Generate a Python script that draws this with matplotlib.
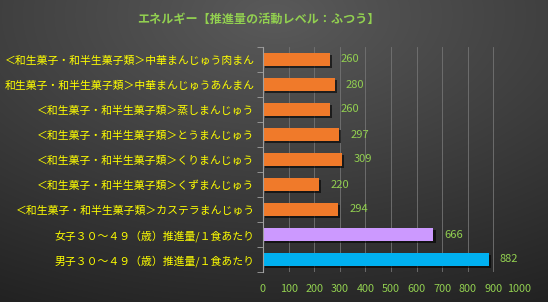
import numpy as np
import matplotlib
matplotlib.use("Agg")
import matplotlib.pyplot as plt
import matplotlib.patheffects as pe

plt.rcParams['font.family'] = ['Noto Sans CJK JP', 'DejaVu Sans']

title = "エネルギー【推進量の活動レベル：ふつう】"
categories = [
    "＜和生菓子・和半生菓子類＞中華まんじゅう肉まん",
    "和生菓子・和半生菓子類＞中華まんじゅうあんまん",
    "＜和生菓子・和半生菓子類＞蒸しまんじゅう",
    "＜和生菓子・和半生菓子類＞とうまんじゅう",
    "＜和生菓子・和半生菓子類＞くりまんじゅう",
    "＜和生菓子・和半生菓子類＞くずまんじゅう",
    "＜和生菓子・和半生菓子類＞カステラまんじゅう",
    "女子３０～４９（歳）推進量/１食あたり",
    "男子３０～４９（歳）推進量/１食あたり",
]
values = [260, 280, 260, 297, 309, 220, 294, 666, 882]
bar_colors = ["#F07A2A"] * 7 + ["#CC99FF", "#00B0F0"]
xticks = [0, 100, 200, 300, 400, 500, 600, 700, 800, 900, 1000]

W, H = 548, 302
fig = plt.figure(figsize=(W / 100, H / 100), dpi=100)

# background radial gradient
bg = fig.add_axes([0, 0, 1, 1], zorder=-10)
yy, xx = np.mgrid[0:H, 0:W]
cx, cy = W * 0.5, H * 0.05
d = np.sqrt(((xx - cx) / W) ** 2 + ((yy - cy) / H) ** 2)
d = d / d.max()
c0 = np.array([0x5a, 0x5a, 0x5a]) / 255
c1 = np.array([0x22, 0x22, 0x22]) / 255
img = c0[None, None, :] * (1 - d[..., None]) + c1[None, None, :] * d[..., None]
bg.imshow(img, aspect='auto', extent=[0, 1, 0, 1])
bg.axis('off')

ax = fig.add_axes([263 / W, 1 - 272 / H, (519 - 263) / W, (272 - 47) / H])
ax.set_facecolor('none')
n = len(categories)
ypos = np.arange(n)
ax.barh(ypos, values, height=0.5, color=bar_colors, zorder=3,
        path_effects=[pe.SimplePatchShadow(offset=(1.5, -1.5), shadow_rgbFace='black', alpha=0.6), pe.Normal()])
ax.set_ylim(n - 0.5, -0.5)
ax.set_xlim(0, 1000)
ax.set_yticks(ypos)
ax.set_yticklabels(categories, color='#FFFF00', fontsize=7.8)
ax.set_yticks(np.arange(-0.5, n, 1), minor=True)
ax.tick_params(axis='y', which='major', length=0, pad=6)
ax.tick_params(axis='y', which='minor', length=4, color='#A0A0A0', direction='out')
ax.set_xticks(xticks)
ax.set_xticklabels([str(t) for t in xticks], color='#92D050', fontsize=7.8)
ax.tick_params(axis='x', length=0, pad=9)
ax.grid(axis='x', color='#747474', linewidth=0.6, zorder=0)
for s in ['top', 'right', 'bottom']:
    ax.spines[s].set_visible(False)
ax.spines['left'].set_color('#A0A0A0')
ax.spines['left'].set_zorder(4)

for y, v in zip(ypos, values):
    ax.annotate(str(v), (v, y), xytext=(8, 0), textcoords='offset points',
                va='center', ha='left', color='#92D050', fontsize=8)

fig.text(258 / W, 1 - 19 / H, title, ha='center', va='center', color='#92D050',
         fontsize=8.7, fontweight='bold')

fig.savefig('out.png', dpi=100)
